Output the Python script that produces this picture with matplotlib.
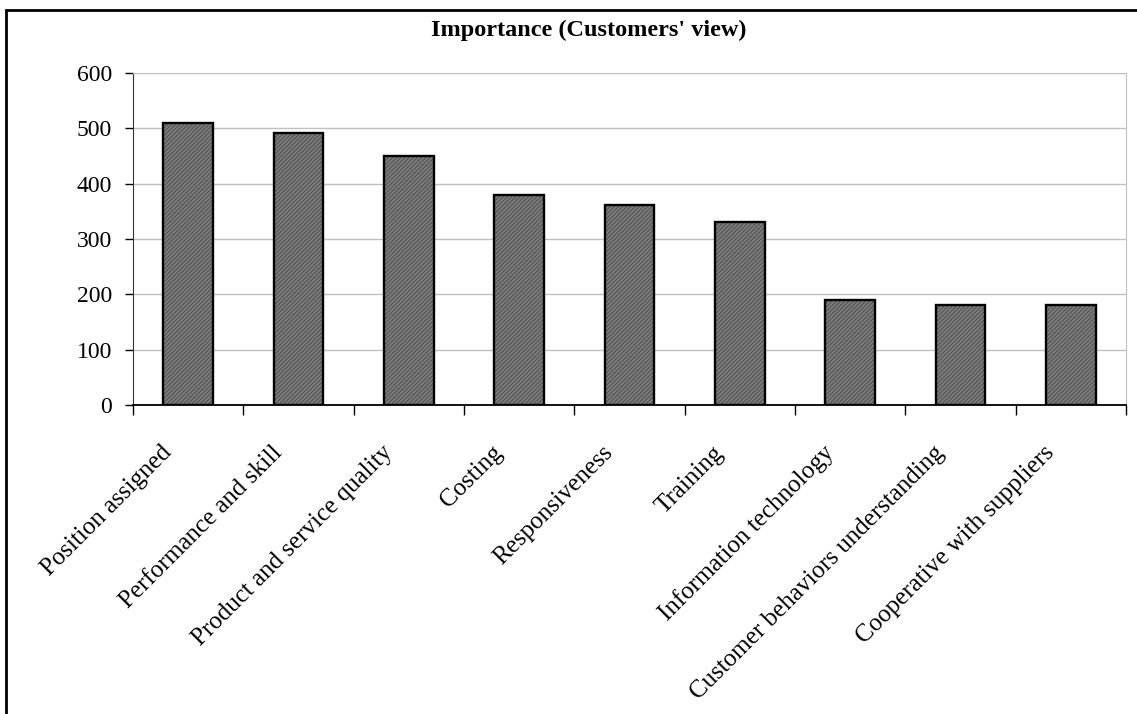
import numpy as np
import matplotlib
matplotlib.use("Agg")
from matplotlib import pyplot as plt
from matplotlib.patches import Rectangle

categories = [
    "Position assigned",
    "Performance and skill",
    "Product and service quality",
    "Costing",
    "Responsiveness",
    "Training",
    "Information technology",
    "Customer behaviors understanding",
    "Cooperative with suppliers",
]
values = [510, 492, 450, 380, 362, 330, 190, 180, 180]
yticks = [0, 100, 200, 300, 400, 500, 600]
title = "Importance (Customers' view)"

plt.rcParams["font.family"] = ["Liberation Serif", "DejaVu Serif"]
plt.rcParams["hatch.linewidth"] = 0.7

fig = plt.figure(figsize=(11.37, 7.14), dpi=100)
ax = fig.add_axes([133 / 1137, 1 - 405 / 714, (1126 - 133) / 1137, (405 - 73) / 714])

x = np.arange(len(categories))

# hatched fill, then the black outline on top
ax.bar(x, values, width=0.45, color="#7c7c7c", edgecolor="#4e4e4e",
       hatch="////////", linewidth=0, zorder=2)
ax.bar(x, values, width=0.45, color="none", edgecolor="black",
       linewidth=1.7, zorder=3)

ax.set_xlim(-0.5, len(categories) - 0.5)
ax.set_ylim(0, 600)
ax.set_yticks(yticks)
ax.yaxis.grid(True, color="#c0c0c0", linewidth=1)
ax.set_axisbelow(True)

# category labels sit a little left of the bar centres, tick marks on the boundaries
ax.set_xticks(x - 0.18)
ax.set_xticklabels(categories, rotation=45, ha="right", va="center",
                   rotation_mode="anchor", fontsize=18)
ax.set_xticks(np.arange(len(categories) + 1) - 0.5, minor=True)
ax.tick_params(axis="x", which="major", length=0, pad=32)
ax.tick_params(axis="x", which="minor", length=7, width=1, direction="out", color="black")
ax.tick_params(axis="y", length=6, width=1, color="black", labelsize=17, pad=9)

ax.spines["top"].set_color("#c0c0c0")
ax.spines["right"].set_color("#c0c0c0")
ax.spines["left"].set_color("#333333")
ax.spines["bottom"].set_color("black")
ax.spines["bottom"].set_linewidth(1.3)

fig.text(589 / 1137, 1 - 30 / 714, title, ha="center", va="center",
         fontsize=17.5, fontweight="bold")

# chart frame, runs off the right and bottom edges
fig.patches.append(Rectangle((6 / 1137, -0.1), 1.2, 1 - 10 / 714 + 0.1,
                             transform=fig.transFigure, fill=False,
                             edgecolor="black", linewidth=2))

fig.savefig("out.png", dpi=100)
